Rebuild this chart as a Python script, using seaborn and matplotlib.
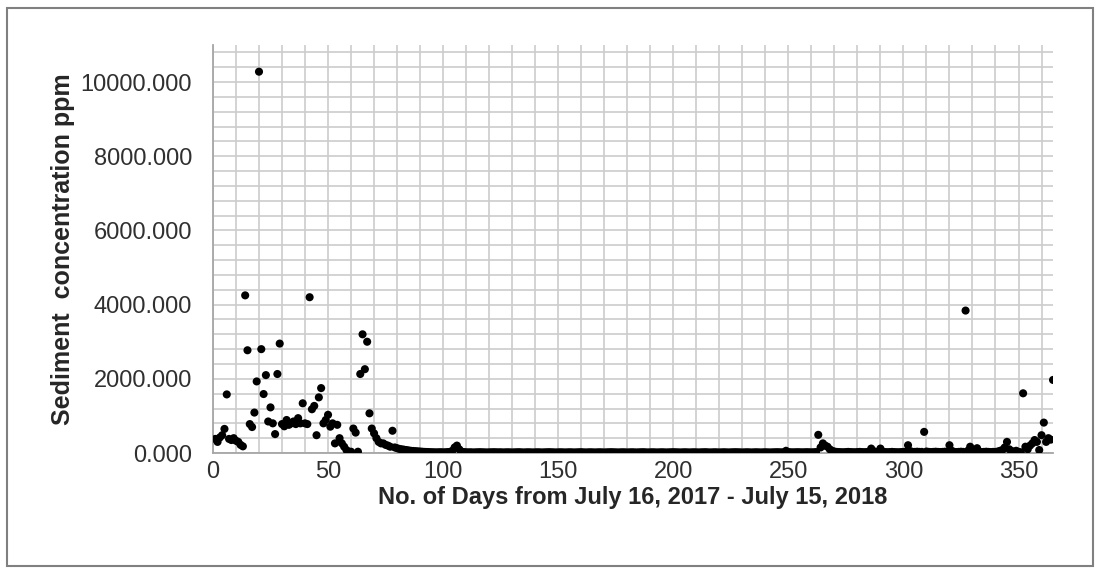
import matplotlib
matplotlib.use("Agg")
import matplotlib.pyplot as plt
from matplotlib.patches import Rectangle
from matplotlib.ticker import MultipleLocator, FormatStrFormatter
import pandas as pd
import seaborn as sns

# Daily sediment concentration (ppm), day 1 .. day 365
early = [380, 300, 420, 480, 650, 1580, 380, 350, 400, 330,
         300, 220, 180, 4250, 2770, 780, 700, 1090, 1930, 10280,
         2800, 1590, 2100, 850, 1230, 800, 510, 2130, 2950, 780,
         720, 890, 760, 800, 850, 780, 940, 800, 1340, 800,
         780, 4200, 1180, 1270, 480, 1500, 1750, 800, 890, 1030,
         710, 800, 260, 760, 400, 260, 170, 80, 35, 35,
         660, 550, 35, 2130, 3200, 2260, 3000, 1070, 660, 530,
         400, 300, 260, 260, 220, 200, 170, 600, 150, 130,
         110, 100, 90, 80, 70, 60, 55, 50, 45, 40,
         35, 30, 28, 25, 22]
dry = [20, 18, 20, 22, 18, 20, 25, 30, 60, 150,
       200, 100, 40, 25, 20, 18, 20, 15, 18, 20,
       22, 20, 18, 15, 18, 20, 22, 20, 18, 20,
       15, 18, 20, 18, 15, 18, 20, 22, 18, 15,
       18, 20, 18, 15, 18, 20, 18, 15, 18, 20,
       22, 20, 18, 15, 18, 20, 18, 15, 18, 20,
       18, 15, 18, 20, 22, 18, 15, 18, 20, 18,
       15, 18, 20, 18, 15, 18, 20, 22, 20, 18,
       15, 18, 20, 18, 15, 18, 20, 18, 15, 18,
       20, 22, 18, 15, 18, 20, 18, 15, 18, 20,
       18, 15, 18, 20, 22, 20, 18, 15, 18, 20,
       18, 15, 18, 20, 18, 15, 18, 20, 22, 18,
       15, 18, 20, 18, 15, 18, 20, 18, 15, 18,
       20, 22, 20, 18, 15, 18, 20, 18, 15, 18,
       20, 18, 15, 18, 20, 18, 15, 18, 20, 22,
       20, 18, 20, 60, 25, 20, 18, 20, 22, 20,
       18, 20, 22, 20, 18, 20, 25]
late = [490, 150, 260, 200, 170, 100, 60, 40, 30, 25,
        22, 20, 25, 30, 25, 22, 20, 25, 30, 25,
        22, 25, 30, 120, 50, 30, 30, 120, 40, 25,
        22, 25, 30, 25, 22, 20, 25, 30, 30, 210,
        50, 30, 30, 35, 30, 30, 570, 40, 30, 25,
        30, 35, 30, 25, 30, 35, 30, 210, 60, 30,
        25, 30, 35, 30, 3840, 60, 170, 60, 40, 130,
        30, 25, 30, 35, 30, 25, 30, 30, 40, 60,
        80, 150, 300, 100, 50, 40, 60, 30, 20, 1610,
        170, 100, 200, 260, 350, 300, 80, 480, 820, 300,
        400, 360, 1970]

ppm = early + dry + late
days = list(range(1, len(ppm) + 1))
df = pd.DataFrame({"day": days, "ppm": ppm})

sns.set_style("white")
plt.rcParams["font.family"] = ["Liberation Sans", "DejaVu Sans"]

fig = plt.figure(figsize=(11, 5.73), dpi=100)
ax = fig.add_axes([0.1936, 0.2094, 0.7637, 0.7121])

# grey frame around the whole picture
fig.patches.append(Rectangle((7 / 1100, 7 / 573), 1086 / 1100, 558 / 573,
                             transform=fig.transFigure, fill=False,
                             edgecolor="#808080", linewidth=1.5))

sns.scatterplot(data=df, x="day", y="ppm", ax=ax, color="black",
                s=34, edgecolor="none", zorder=3)

ax.set_xlim(0, 365)
ax.set_ylim(0, 11000)
ax.xaxis.set_major_locator(MultipleLocator(50))
ax.xaxis.set_minor_locator(MultipleLocator(10))
ax.yaxis.set_major_locator(MultipleLocator(2000))
ax.yaxis.set_minor_locator(MultipleLocator(400))
ax.yaxis.set_major_formatter(FormatStrFormatter("%.3f"))

ax.grid(True, which="both", color="#cccccc", linewidth=1.2)
ax.set_axisbelow(True)
for side in ["top", "right"]:
    ax.spines[side].set_visible(False)
for side in ["left", "bottom"]:
    ax.spines[side].set_color("#a6a6a6")
    ax.spines[side].set_linewidth(1.3)

ax.tick_params(which="major", direction="out", length=6, width=1.2,
               color="#a6a6a6", labelsize=17, labelcolor="#303030")
ax.tick_params(axis="x", pad=0)
ax.tick_params(axis="y", pad=9)
ax.tick_params(which="minor", length=0)

ax.set_xlabel("No. of Days from July 16, 2017 - July 15, 2018",
              fontsize=17, fontweight="bold", labelpad=2)
ax.set_ylabel("Sediment  concentration ppm", fontsize=18,
              fontweight="bold", labelpad=4)

fig.savefig("out.png", dpi=100)
